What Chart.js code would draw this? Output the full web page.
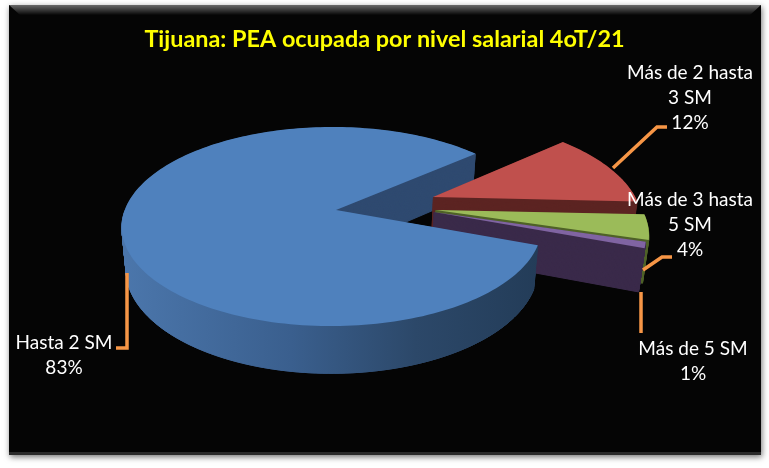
<!DOCTYPE html>
<html>
<head>
<meta charset="utf-8">
<style>
  html, body { margin: 0; padding: 0; background: #fff; }
  #wrap { width: 769px; height: 468px; }
</style>
<script src="https://cdn.jsdelivr.net/npm/chart.js@4"></script>
</head>
<body>
<div id="wrap"><canvas id="chart" width="769" height="468"></canvas></div>
<script>
const categories = ['Hasta 2 SM', 'Más de 2 hasta 3 SM', 'Más de 3 hasta 5 SM', 'Más de 5 SM'];
const shares = [83, 12, 4, 1];
const labelLines = [['Hasta 2 SM'], ['Más de 2 hasta', '3 SM'], ['Más de 3 hasta', '5 SM'], ['Más de 5 SM']];
const titleText = 'Tijuana: PEA ocupada por nivel salarial 4oT/21';

const topColors = ['#4F81BD', '#C0504D', '#9BBB59', '#8064A2'];
const wallColors = ['#2F4A70', '#5C2422', '#4F6228', '#3A2A4A'];
const leaderColor = '#F79646';

// pie camera, fitted by eye to the 3D look
const apexX = 336, apexY = 210, radX = 207, radY = 96.8;
const tiltV = 0.166, tiltU = -0.02;
const bottomX = 0.98, bottomY = 1.045, depth = 42;

// exploded slices, in disk units
const sliceShift = [[0, 0], [0.484, -0.138], [0.485, 0], [0.475, 0.02]];
const sliceRadius = [1, 1.04, 1.04, 1.03];

function project(u, v, t) {
  const w = 1 - tiltV * v - tiltU * u;
  const x = radX * u / w, y = radY * v / w;
  return [apexX + x * (1 - (1 - bottomX) * t), apexY + y * (1 + (bottomY - 1) * t) + depth * t];
}

function slicePath(ctx, a0, a1, i, t) {
  const shift = sliceShift[i], r = sliceRadius[i];
  const steps = Math.max(4, Math.ceil((a1 - a0) * 40));
  ctx.beginPath();
  let p = project(shift[0], shift[1], t);
  ctx.moveTo(p[0], p[1]);
  for (let s = 0; s <= steps; s++) {
    const a = a0 + (a1 - a0) * s / steps;
    p = project(shift[0] + r * Math.cos(a), shift[1] + r * Math.sin(a), t);
    ctx.lineTo(p[0], p[1]);
  }
  ctx.closePath();
}

function sweep(ctx, a0, a1, i, color) {
  ctx.fillStyle = color;
  ctx.strokeStyle = color;
  ctx.lineWidth = 1;
  for (let t = 1; t >= 0; t -= 0.02) {
    slicePath(ctx, a0, a1, i, t);
    ctx.fill();
    ctx.stroke();
  }
}

const panel3d = {
  id: 'panel3d',
  beforeDraw(chart) {
    const ctx = chart.ctx;
    ctx.save();
    ctx.fillStyle = '#fff';
    ctx.fillRect(0, 0, 769, 468);
    ctx.shadowColor = 'rgba(0,0,0,0.55)';
    ctx.shadowBlur = 6;
    ctx.shadowOffsetX = 1;
    ctx.shadowOffsetY = 2;
    ctx.fillStyle = '#050505';
    ctx.fillRect(9, 5, 752, 450);
    ctx.restore();
    // top bevel
    ctx.save();
    const g = ctx.createLinearGradient(0, 5, 0, 15);
    g.addColorStop(0, '#6a6a6a');
    g.addColorStop(1, '#060606');
    ctx.fillStyle = g;
    ctx.beginPath();
    ctx.moveTo(9, 5); ctx.lineTo(761, 5); ctx.lineTo(750, 15); ctx.lineTo(20, 15);
    ctx.closePath();
    ctx.fill();
    ctx.fillStyle = '#2a2a2a';
    ctx.fillRect(9, 452, 752, 3);
    ctx.restore();
  },
  beforeDatasetsDraw(chart) {
    const ctx = chart.ctx;
    const arcs = chart.getDatasetMeta(0).data;
    const a = arcs.map(arc => [arc.startAngle, arc.endAngle]);
    ctx.save();
    // inner wall of the big slice, behind everything
    sweep(ctx, a[0][0], a[0][1], 0, wallColors[0]);
    for (let i = 1; i < arcs.length; i++) {
      sweep(ctx, a[i][0], a[i][1], i, wallColors[i]);
      slicePath(ctx, a[i][0], a[i][1], i, 0);
      ctx.fillStyle = topColors[i];
      ctx.fill();
    }
    // front wall and top of the big slice go over the exploded ones
    const wall = ctx.createLinearGradient(125, 0, 540, 0);
    wall.addColorStop(0, '#4B76AB');
    wall.addColorStop(0.4, '#3A5F8E');
    wall.addColorStop(0.7, '#2C4869');
    wall.addColorStop(1, '#233C58');
    sweep(ctx, a[0][0], Math.PI, 0, wall);
    slicePath(ctx, a[0][0], a[0][1], 0, 0);
    ctx.fillStyle = topColors[0];
    ctx.fill();
    ctx.restore();
    return false;
  },
  afterDraw(chart) {
    const ctx = chart.ctx;
    const leaders = [
      [[127, 273], [127, 348], [116, 348]],
      [[613, 168], [657, 127], [667, 127]],
      [[643, 270], [662, 257], [672, 257]],
      [[641, 292], [641, 333]]
    ];
    const anchors = [[64, 343], [690, 73], [690, 200], [693, 349]];
    ctx.save();
    ctx.strokeStyle = leaderColor;
    ctx.lineWidth = 3.5;
    leaders.forEach(pts => {
      ctx.beginPath();
      pts.forEach((p, i) => i ? ctx.lineTo(p[0], p[1]) : ctx.moveTo(p[0], p[1]));
      ctx.stroke();
    });
    ctx.fillStyle = '#fff';
    ctx.font = '19px Lato';
    ctx.textAlign = 'center';
    ctx.textBaseline = 'middle';
    labelLines.forEach((lines, i) => {
      const rows = lines.concat(shares[i] + '%');
      rows.forEach((row, r) => ctx.fillText(row, anchors[i][0], anchors[i][1] + r * 25));
    });
    ctx.restore();
  }
};

new Chart(document.getElementById('chart'), {
  type: 'pie',
  data: {
    labels: categories,
    datasets: [{ data: shares, backgroundColor: topColors, borderWidth: 0 }]
  },
  options: {
    responsive: false,
    animation: false,
    rotation: 110.5,
    plugins: {
      legend: { display: false },
      tooltip: { enabled: false },
      title: {
        display: true,
        text: titleText,
        color: '#FFFF00',
        font: { family: 'Lato', size: 23.4, weight: 'bold' },
        padding: { top: 25, bottom: 10 }
      }
    }
  },
  plugins: [panel3d]
});
</script>
</body>
</html>
